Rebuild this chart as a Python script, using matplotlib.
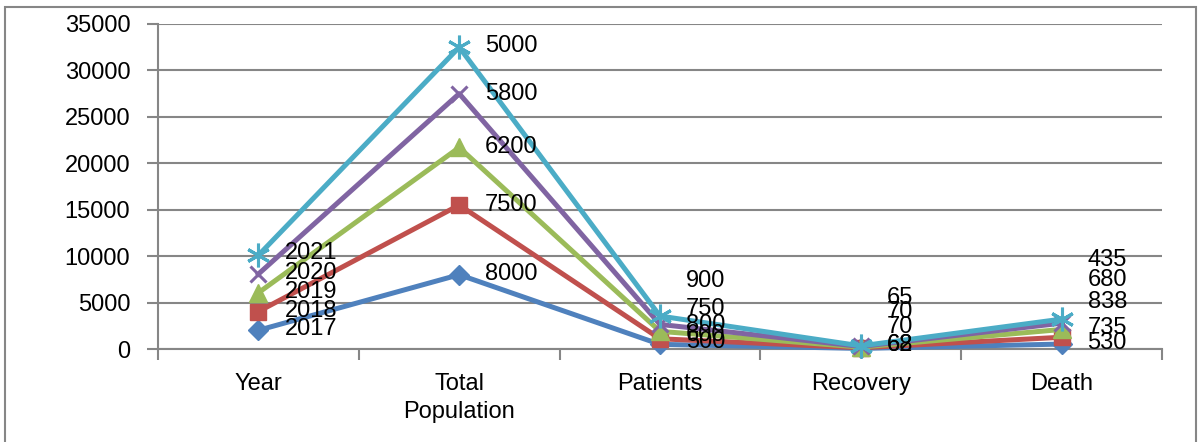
import matplotlib.pyplot as plt
from matplotlib.patches import Rectangle

categories = ['Year', 'Total\nPopulation', 'Patients', 'Recovery', 'Death']
series = ['2017', '2018', '2019', '2020', '2021']
v2017 = [2017, 8000, 500, 62, 530]
v2018 = [2018, 7500, 600, 68, 735]
v2019 = [2019, 6200, 800, 70, 838]
v2020 = [2020, 5800, 750, 70, 680]
v2021 = [2021, 5000, 900, 65, 435]
values = [v2017, v2018, v2019, v2020, v2021]

colors = ['#4F81BD', '#C0504D', '#9BBB59', '#8064A2', '#4BACC6']
markers = ['D', 's', '^', 'x', (6, 2, 0)]
msizes = [10, 12, 13, 12, 17]

# label shifts (pixels, upward) per series, per category -- excel put them like this
label_dy = [
    [1, 1, 2, 3, 1],
    [1, 0, 4, 3, 9],
    [1, 0, 6, 20, 27],
    [1, 0, 15, 34, 43],
    [2, 1, 35, 48, 59],
]

plt.rcParams['font.family'] = ['Liberation Sans', 'DejaVu Sans']

fig = plt.figure(figsize=(11.98, 4.42), dpi=100)
fig.patches.append(Rectangle((5/1198, -10/442), 1191/1198, 445/442, transform=fig.transFigure,
                             fill=False, edgecolor='#868686', lw=1.5))
ax = fig.add_axes([158/1198, 1-349/442, (1162-158)/1198, (349-24)/442])

x = list(range(len(categories)))
cum = [0]*len(categories)
for i, s in enumerate(series):
    cum = [c + v for c, v in zip(cum, values[i])]
    thin = markers[i] == 'x' or isinstance(markers[i], tuple)
    ax.plot(x, cum, color=colors[i], lw=3.6, marker=markers[i], ms=msizes[i],
            mew=2.2 if thin else 1, zorder=3 + i, clip_on=False)
    for j in x:
        ax.annotate(str(values[i][j]), (j, cum[j]), xytext=(26, label_dy[i][j]),
                    textcoords='offset pixels', ha='left', va='center', fontsize=17,
                    zorder=20)

ax.set_xlim(-0.5, 4.5)
ax.set_ylim(0, 35000)
ax.set_yticks(range(0, 35001, 5000))
ax.set_xticks(x)
ax.set_xticklabels(categories, fontsize=17, linespacing=1.35)
ax.set_xticks([k - 0.5 for k in range(6)], minor=True)
ax.tick_params(axis='x', which='major', length=0, pad=17)
ax.tick_params(axis='x', which='minor', length=8, color='#868686', width=1.5)
ax.tick_params(axis='y', length=8, color='#868686', width=1.5, labelsize=17, pad=12)
ax.grid(axis='y', color='#868686', lw=1.5)
ax.set_axisbelow(True)
for sp in ['top', 'right']:
    ax.spines[sp].set_visible(False)
for sp in ['left', 'bottom']:
    ax.spines[sp].set_color('#868686')
    ax.spines[sp].set_linewidth(1.5)

plt.savefig('out.png', dpi=100)
